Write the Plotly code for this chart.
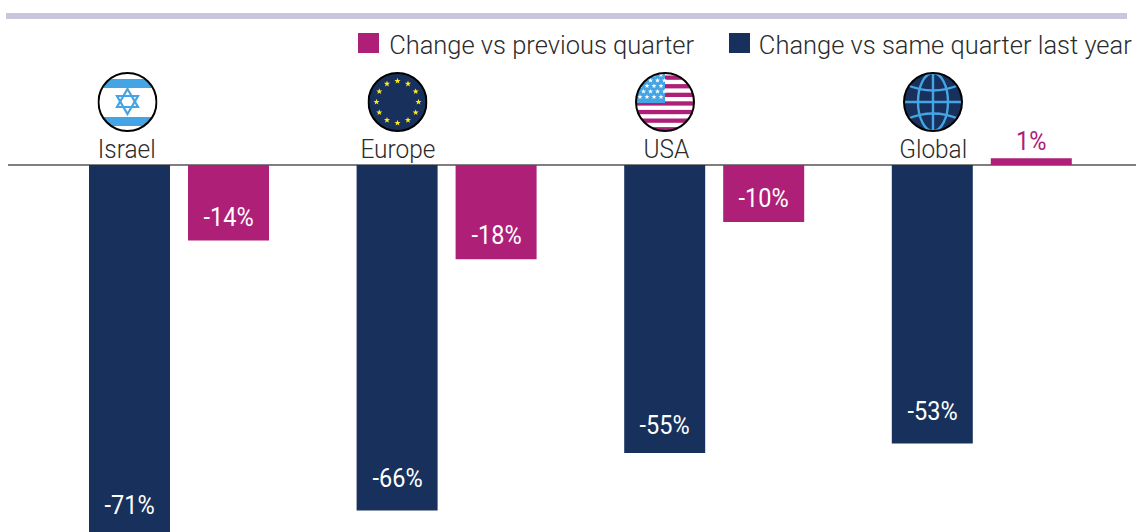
import base64, math
import plotly.graph_objects as go

categories = ["Israel", "Europe", "USA", "Global"]
vs_last_year = [-71, -66, -55, -53.2]
vs_prev_quarter = [-14.4, -18, -10.9, 1.3]
labels_last_year = ["-71%", "-66%", "-55%", "-53%"]
labels_prev_quarter = ["-14%", "-18%", "-10%", "1%"]
series_names = ["Change vs previous quarter", "Change vs same quarter last year"]

NAVY = "#17315c"
MAGENTA = "#ae2078"
BLUE = "#45a5e4"
FONT = "Roboto"
W, H = 1136, 532
ML = 8
X0, STEP = 179.0, 267.6
PX_PER_UNIT = 5.235
ZERO_PX = 165.0

def cat_x(px):
    return (px - X0) / STEP

def star(cx, cy, r, fill, r2=None):
    r2 = r2 or r * 0.42
    pts = []
    for i in range(10):
        a = -math.pi / 2 + i * math.pi / 5
        rr = r if i % 2 == 0 else r2
        pts.append(f"{cx + rr * math.cos(a):.2f},{cy + rr * math.sin(a):.2f}")
    return f'<polygon points="{" ".join(pts)}" fill="{fill}"/>'

def wrap(inner, bg="#ffffff"):
    svg = (
        '<svg xmlns="http://www.w3.org/2000/svg" width="60" height="60" viewBox="0 0 60 60">'
        '<defs><clipPath id="c"><circle cx="30" cy="30" r="29"/></clipPath></defs>'
        f'<circle cx="30" cy="30" r="29" fill="{bg}"/>'
        f'<g clip-path="url(#c)">{inner}</g>'
        '<circle cx="30" cy="30" r="29" fill="none" stroke="#000" stroke-width="2"/></svg>'
    )
    return "data:image/svg+xml;base64," + base64.b64encode(svg.encode()).decode()

def israel():
    s = f'<rect x="0" y="7" width="60" height="9" fill="{BLUE}"/>'
    s += f'<rect x="0" y="45" width="60" height="9" fill="{BLUE}"/>'
    s += f'<polygon points="30,17 40.5,35 19.5,35" fill="none" stroke="{BLUE}" stroke-width="2.2"/>'
    s += f'<polygon points="30,42 40.5,24 19.5,24" fill="none" stroke="{BLUE}" stroke-width="2.2"/>'
    return wrap(s)

def europe():
    s = ""
    for i in range(12):
        a = i * math.pi / 6
        s += star(30 + 21 * math.sin(a), 30 - 21 * math.cos(a), 3.2, "#ffe81e")
    return wrap(s, NAVY)

def usa():
    s = ""
    for i in range(7):
        s += f'<rect x="0" y="{3.5 + i * 8.6:.1f}" width="60" height="4.3" fill="{MAGENTA}"/>'
    s += f'<rect x="0" y="0" width="30" height="31" fill="{BLUE}"/>'
    for r, y in enumerate([3, 8.5, 14, 19.5, 25]):
        for k in range(4):
            s += star(5 + k * 7 + (3.5 if r % 2 else 0), y, 2.6, "#ffffff")
    return wrap(s)

def globe():
    st = f'fill="none" stroke="{BLUE}" stroke-width="2.4"'
    s = f'<ellipse cx="30" cy="30" rx="15" ry="29" {st}/>'
    s += f'<line x1="30" y1="0" x2="30" y2="60" stroke="{BLUE}" stroke-width="2.4"/>'
    s += f'<line x1="0" y1="30" x2="60" y2="30" stroke="{BLUE}" stroke-width="2.4"/>'
    s += f'<path d="M4,13 Q30,24 56,13" {st}/><path d="M4,47 Q30,36 56,47" {st}/>'
    return wrap(s, NAVY)

icons = [israel(), europe(), usa(), globe()]
icon_centers = [127.5, 397.5, 665, 933]
name_centers = [127, 398, 666, 933]
legend_centers = [542, 946]
lift_last_year = [31, 32, 27, 32]
lift_prev_quarter = [23, 24, 24, 17]

off_dark = cat_x(89)
off_mag = cat_x(188)
bar_w = 81 / STEP

fig = go.Figure()
fig.add_bar(x=list(range(4)), y=vs_last_year, name=series_names[1], marker_color=NAVY,
            marker_line_width=0, width=bar_w, offset=off_dark)
fig.add_bar(x=list(range(4)), y=vs_prev_quarter, name=series_names[0], marker_color=MAGENTA,
            marker_line_width=0, width=bar_w, offset=off_mag)

ann = []
for i in range(4):
    ann.append(dict(x=i + off_dark + bar_w / 2, y=vs_last_year[i] + lift_last_year[i] / PX_PER_UNIT,
                    text=labels_last_year[i], showarrow=False, yanchor="middle", xanchor="center",
                    font=dict(family=FONT, size=25, color="#ffffff")))
    up = vs_prev_quarter[i] > 0
    ann.append(dict(x=i + off_mag + bar_w / 2, y=vs_prev_quarter[i] + lift_prev_quarter[i] / PX_PER_UNIT,
                    text=labels_prev_quarter[i], showarrow=False, yanchor="middle", xanchor="center",
                    font=dict(family=FONT, size=25, color=MAGENTA if up else "#ffffff")))
    ann.append(dict(x=name_centers[i] / W, xref="paper", y=1 - 149 / H, yref="paper",
                    xanchor="center", yanchor="middle", showarrow=False, text=categories[i],
                    font=dict(family=FONT, size=26, weight=300, color="#2b2b2b")))
for k in range(2):
    ann.append(dict(x=legend_centers[k] / W, xref="paper", y=1 - 45 / H, yref="paper",
                    xanchor="center", yanchor="middle", showarrow=False, text=series_names[k],
                    font=dict(family=FONT, size=26, weight=300, color="#2b2b2b")))

def rect(x0, y0, x1, y1, color):
    return dict(type="rect", xref="paper", yref="paper", x0=x0 / W, x1=x1 / W,
                y0=1 - y1 / H, y1=1 - y0 / H, fillcolor=color, line_width=0, layer="above")

shapes = [
    rect(6, 13, 1127, 19, "#c9c6de"),
    rect(358, 33, 379, 53, MAGENTA),
    rect(729, 33, 750, 53, NAVY),
]

images = [dict(source=icons[i], xref="paper", yref="paper", x=icon_centers[i] / W, y=1 - 102 / H,
               sizex=60 / W, sizey=60 / H, xanchor="center", yanchor="middle", sizing="contain",
               layer="above") for i in range(4)]

fig.update_layout(
    width=W, height=H, autosize=False, showlegend=False, barmode="overlay",
    margin=dict(l=0, r=0, t=0, b=0, pad=0),
    paper_bgcolor="#ffffff", plot_bgcolor="#ffffff",
    xaxis=dict(range=[cat_x(0), cat_x(W)], showgrid=False, showticklabels=False, ticks="", zeroline=False),
    yaxis=dict(range=[(ZERO_PX - H) / PX_PER_UNIT, ZERO_PX / PX_PER_UNIT], showgrid=False,
               showticklabels=False, ticks="", zeroline=False),
    annotations=ann, images=images,
    shapes=shapes + [dict(type="line", xref="paper", yref="y", x0=ML / W, x1=1, y0=0, y1=0,
                          line=dict(color="#555555", width=1.5), layer="below")],
)
css = ("var s=document.createElement('style');"
       "s.textContent='body{margin:0;overflow:hidden}"
       ".annotation-text{transform-box:fill-box;transform-origin:center;transform:scaleX(0.94)}"
       ".annotation[data-index=\"12\"] .annotation-text,.annotation[data-index=\"13\"] .annotation-text"
       "{transform:scaleX(0.98)}';"
       "document.head.appendChild(s);")
fig.write_html("out.html", config={"displayModeBar": False}, post_script=css)
